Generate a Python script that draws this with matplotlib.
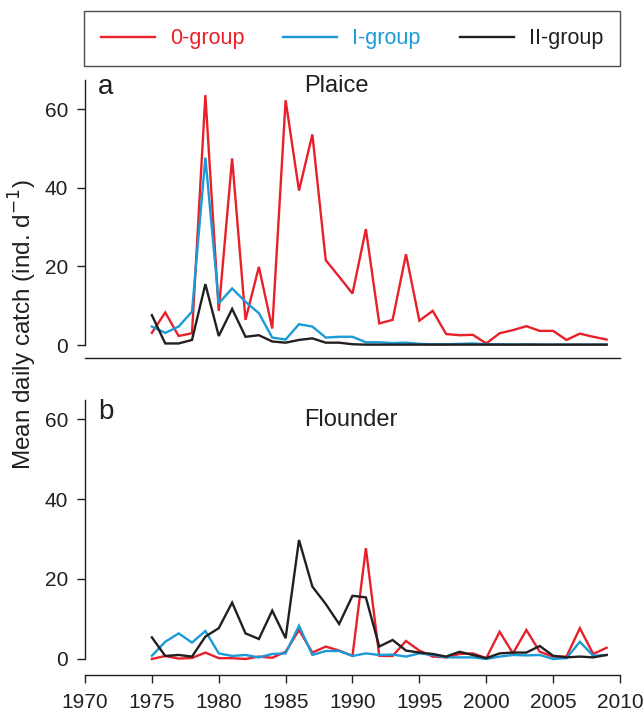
import numpy as np
import matplotlib
matplotlib.use("Agg")
import matplotlib.pyplot as plt

plt.rcParams['font.family'] = ['Liberation Sans', 'DejaVu Sans']

years = np.arange(1975, 2010)

# Plaice (panel a)
plaice_0 = [3.1, 8.3, 2.3, 3.0, 63.6, 8.7, 47.5, 6.4, 19.9, 4.2,
            62.3, 39.3, 53.6, 21.6, 17.4, 13.1, 29.5, 5.5, 6.4, 23.1,
            6.2, 8.7, 2.8, 2.5, 2.6, 0.4, 3.0, 3.8, 4.8, 3.6,
            3.6, 1.3, 2.9, 2.1, 1.4]
plaice_1 = [4.7, 3.1, 4.7, 8.5, 47.7, 10.6, 14.4, 11.0, 8.1, 1.9,
            1.4, 5.3, 4.7, 1.9, 2.1, 2.1, 0.7, 0.7, 0.5, 0.6,
            0.3, 0.2, 0.2, 0.3, 0.4, 0.2, 0.2, 0.1, 0.2, 0.1,
            0.1, 0.1, 0.1, 0.1, 0.1]
plaice_2 = [7.6, 0.4, 0.4, 1.3, 15.5, 2.3, 9.2, 2.1, 2.5, 0.9,
            0.6, 1.3, 1.7, 0.6, 0.6, 0.2, 0.1, 0.1, 0.1, 0.1,
            0.1, 0.1, 0.1, 0.1, 0.1, 0.1, 0.1, 0.1, 0.1, 0.1,
            0.1, 0.1, 0.1, 0.1, 0.1]

# Flounder (panel b)
flounder_0 = [0.0, 0.75, 0.1, 0.25, 1.6, 0.2, 0.2, 0.0, 0.6, 0.3,
              1.8, 7.25, 1.6, 3.1, 2.1, 0.8, 27.7, 0.8, 0.75, 4.5,
              2.1, 0.6, 0.4, 1.25, 1.4, 0.2, 6.8, 1.4, 7.25, 1.8,
              0.6, 0.6, 7.7, 1.25, 2.8]
flounder_1 = [0.8, 4.3, 6.4, 4.1, 7.0, 1.4, 0.75, 1.0, 0.4, 1.25,
              1.4, 8.3, 1.0, 2.0, 2.0, 0.75, 1.4, 1.0, 1.1, 0.6,
              1.4, 1.0, 0.4, 0.4, 0.4, 0.0, 0.6, 1.0, 0.9, 1.0,
              0.0, 0.2, 4.3, 0.8, 1.0]
flounder_2 = [5.4, 0.75, 1.0, 0.6, 5.6, 7.7, 14.1, 6.4, 5.0, 12.1,
              5.2, 29.75, 18.1, 13.75, 8.75, 15.8, 15.4, 3.1, 4.75, 2.1,
              1.6, 1.25, 0.6, 1.8, 1.0, 0.2, 1.4, 1.6, 1.6, 3.25,
              0.8, 0.4, 0.6, 0.4, 1.0]

labels = ['0-group', 'I-group', 'II-group']
colors = ['#E8202A', '#1A9BD7', '#231F20']

fig = plt.figure(figsize=(6.43, 7.16), dpi=100)
ax_a = fig.add_axes([0.1322, 0.500, 0.832, 0.388])
ax_b = fig.add_axes([0.1322, 0.0573, 0.832, 0.384])

for ax, series in [(ax_a, [plaice_0, plaice_1, plaice_2]),
                   (ax_b, [flounder_0, flounder_1, flounder_2])]:
    for s, c, lab in zip(series, colors, labels):
        ax.plot(years, s, color=c, lw=1.7, label=lab, solid_joinstyle='miter')
    ax.set_xlim(1970, 2010)
    ax.spines['top'].set_visible(False)
    ax.spines['right'].set_visible(False)
    ax.set_yticks([0, 20, 40, 60])
    ax.tick_params(axis='y', direction='out', length=6, width=1, labelsize=15,
                   pad=6, colors='#231F20')
    for sp in ['left', 'bottom']:
        ax.spines[sp].set_linewidth(1)
        ax.spines[sp].set_color('#231F20')

ax_a.set_ylim(-3.3, 67.4)
ax_a.spines['left'].set_bounds(0, 67.4)
ax_a.tick_params(axis='x', bottom=False, labelbottom=False)

ax_b.set_ylim(-4, 64.75)
ax_b.spines['left'].set_bounds(0, 64.75)
ax_b.set_xticks(np.arange(1970, 2011, 5))
ax_b.tick_params(axis='x', direction='out', length=6, width=1, labelsize=15,
                 pad=7, colors='#231F20')

ax_a.text(0.024, 0.975, 'a', transform=ax_a.transAxes, fontsize=20, va='center', ha='left',
          color='#231F20')
ax_a.text(0.409, 0.978, 'Plaice', transform=ax_a.transAxes, fontsize=17, va='center', ha='left',
          color='#231F20')
ax_b.text(0.024, 0.956, 'b', transform=ax_b.transAxes, fontsize=20, va='center', ha='left',
          color='#231F20')
ax_b.text(0.409, 0.927, 'Flounder', transform=ax_b.transAxes, fontsize=17, va='center', ha='left',
          color='#231F20')

fig.text(0.036, 0.547, 'Mean daily catch (ind. d$^{-1}$)', rotation=90,
         fontsize=17.5, va='center', ha='center', color='#231F20')

handles, labs = ax_a.get_legend_handles_labels()
leg = fig.legend(handles, labs, loc='lower left', ncol=3, mode='expand',
                 bbox_to_anchor=(84 / 643, 1 - 66 / 716, 536 / 643, 54 / 716),
                 frameon=True, fancybox=False, edgecolor='#231F20',
                 fontsize=15.5, handlelength=2.5, labelcolor='linecolor',
                 borderaxespad=0, borderpad=0.78, handletextpad=0.7)
leg.get_frame().set_linewidth(1)

fig.savefig('out.png', dpi=100)
